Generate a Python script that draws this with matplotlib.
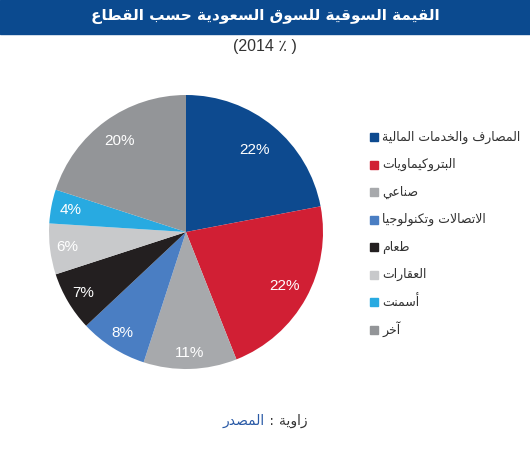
import matplotlib
matplotlib.use("Agg")
import matplotlib.pyplot as plt
from matplotlib.patches import Rectangle
import numpy as np

plt.rcParams['font.family'] = ['Liberation Sans', 'DejaVu Sans']

title = "القيمة السوقية للسوق السعودية حسب القطاع"
subtitle = "(2014 ٪ )"
sectors = ["المصارف والخدمات المالية", "البتروكيماويات", "صناعي",
           "الاتصالات وتكنولوجيا", "طعام", "العقارات", "أسمنت", "آخر"]
shares = [22, 22, 11, 8, 7, 6, 4, 20]
colors = ["#0d4a8f", "#d11f34", "#a7a9ac", "#4a7ec3",
          "#231f20", "#c8c9cb", "#28aae1", "#939598"]
source_label = "المصدر"
source_name = "زاوية"

# simple arabic shaping (presentation forms) since matplotlib has no bidi
FORMS = {
    'ا': ('\uFE8D', '\uFE8E', None, None),
    'أ': ('\uFE83', '\uFE84', None, None),
    'آ': ('\uFE81', '\uFE82', None, None),
    'ب': ('\uFE8F', '\uFE90', '\uFE91', '\uFE92'),
    'ة': ('\uFE93', '\uFE94', None, None),
    'ت': ('\uFE95', '\uFE96', '\uFE97', '\uFE98'),
    'ج': ('\uFE9D', '\uFE9E', '\uFE9F', '\uFEA0'),
    'ح': ('\uFEA1', '\uFEA2', '\uFEA3', '\uFEA4'),
    'خ': ('\uFEA5', '\uFEA6', '\uFEA7', '\uFEA8'),
    'د': ('\uFEA9', '\uFEAA', None, None),
    'ر': ('\uFEAD', '\uFEAE', None, None),
    'ز': ('\uFEAF', '\uFEB0', None, None),
    'س': ('\uFEB1', '\uFEB2', '\uFEB3', '\uFEB4'),
    'ص': ('\uFEB9', '\uFEBA', '\uFEBB', '\uFEBC'),
    'ط': ('\uFEC1', '\uFEC2', '\uFEC3', '\uFEC4'),
    'ع': ('\uFEC9', '\uFECA', '\uFECB', '\uFECC'),
    'ف': ('\uFED1', '\uFED2', '\uFED3', '\uFED4'),
    'ق': ('\uFED5', '\uFED6', '\uFED7', '\uFED8'),
    'ك': ('\uFED9', '\uFEDA', '\uFEDB', '\uFEDC'),
    'ل': ('\uFEDD', '\uFEDE', '\uFEDF', '\uFEE0'),
    'م': ('\uFEE1', '\uFEE2', '\uFEE3', '\uFEE4'),
    'ن': ('\uFEE5', '\uFEE6', '\uFEE7', '\uFEE8'),
    'ه': ('\uFEE9', '\uFEEA', '\uFEEB', '\uFEEC'),
    'و': ('\uFEED', '\uFEEE', None, None),
    'ي': ('\uFEF1', '\uFEF2', '\uFEF3', '\uFEF4'),
}
LAM_ALEF = {'ا': ('\uFEFB', '\uFEFC'), 'أ': ('\uFEF7', '\uFEF8'),
            'آ': ('\uFEF5', '\uFEF6')}


def shape(s):
    res = []
    prev_joins = False
    i = 0
    while i < len(s):
        c = s[i]
        nxt = s[i + 1] if i + 1 < len(s) else None
        if c not in FORMS:
            res.append(c)
            prev_joins = False
            i += 1
            continue
        if c == 'ل' and nxt in LAM_ALEF:
            res.append(LAM_ALEF[nxt][1 if prev_joins else 0])
            prev_joins = False
            i += 2
            continue
        iso, fin, ini, med = FORMS[c]
        can_next = ini is not None and nxt in FORMS
        if prev_joins and can_next:
            g = med
        elif prev_joins:
            g = fin
        elif can_next:
            g = ini
        else:
            g = iso
        res.append(g)
        prev_joins = ini is not None
        i += 1
    return ''.join(reversed(res))


W, H = 530, 450
fig = plt.figure(figsize=(W / 100, H / 100), dpi=100)

# overlay in pixel coords
bg = fig.add_axes([0, 0, 1, 1])
bg.set_xlim(0, W)
bg.set_ylim(H, 0)
bg.axis('off')

bg.add_patch(Rectangle((0, 0), W, 34, color="#0b4a8f", zorder=0))
bg.text(265, 17, shape(title), color='white', fontsize=11, fontweight='bold',
        family='DejaVu Sans', ha='center', va='center')
bg.text(265, 47, subtitle, color='#333333', fontsize=11.5, ha='center', va='center')

# pie
cx, cy, r = 186, 232, 137
ax = fig.add_axes([(cx - r) / W, 1 - (cy + r) / H, 2 * r / W, 2 * r / H])
wedges, _ = ax.pie(shares, colors=colors, startangle=90, counterclock=False,
                   radius=1, wedgeprops=dict(linewidth=0))
ax.set_xlim(-1, 1)
ax.set_ylim(-1, 1)
ax.axis('off')

label_r = [0.78, 0.82, 0.88, 0.87, 0.87, 0.87, 0.86, 0.82]
for w, v, lr in zip(wedges, shares, label_r):
    ang = np.deg2rad((w.theta1 + w.theta2) / 2)
    ax.text(lr * np.cos(ang), lr * np.sin(ang), "%d%%" % v, color='white',
            fontsize=11, ha='center', va='center')

# legend
for i, (lab, col) in enumerate(zip(sectors, colors)):
    y = 137 + 27.5 * i
    bg.add_patch(Rectangle((370, y - 4), 8, 8, color=col))
    bg.text(382, y, shape(lab), color='#333333', fontsize=9,
            family='DejaVu Sans', ha='left', va='center')

# source line: blue label, colon, name
renderer = fig.canvas.get_renderer()
x = 223
for txt, col in [(shape(source_label), '#2a5aa6'), (' : ', '#333333'),
                 (shape(source_name), '#333333')]:
    t = bg.text(x, 421, txt, color=col, fontsize=10, family='DejaVu Sans',
                ha='left', va='center')
    bb = t.get_window_extent(renderer)
    x += bb.width

fig.savefig("out.png", dpi=100)
